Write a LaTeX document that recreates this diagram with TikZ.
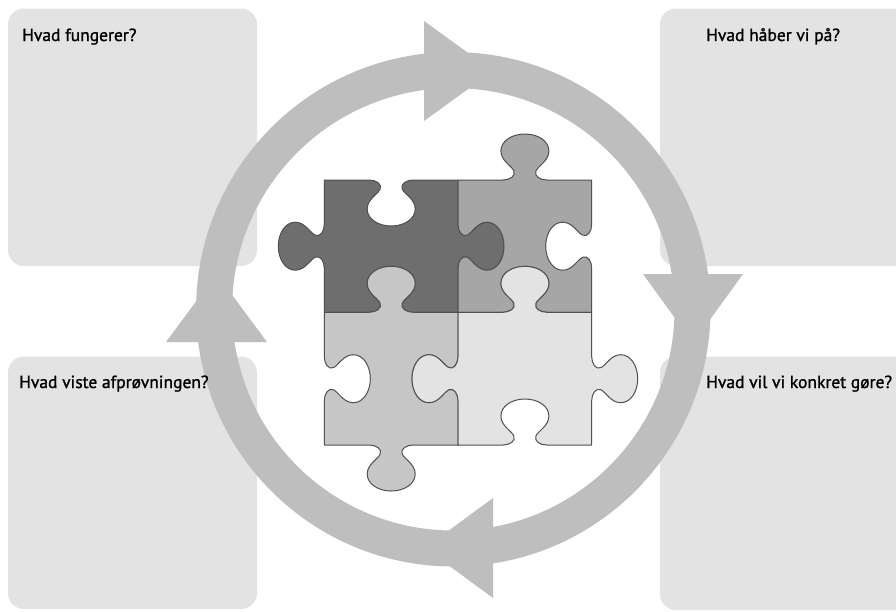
\documentclass[tikz,border=0pt]{standalone}
\usepackage{fontspec}
\setmainfont{PT Sans}
\newfontfamily\qfont[FakeBold=1.2]{PT Sans}
\definecolor{ringgray}{RGB}{190,190,190}
\definecolor{boxgray}{RGB}{227,227,227}
\definecolor{pdark}{RGB}{110,110,110}
\definecolor{pmid}{RGB}{166,166,166}
\definecolor{plight}{RGB}{198,198,198}
\definecolor{ppale}{RGB}{227,227,227}
\definecolor{pline}{RGB}{80,80,80}
% knob along an edge: #1,#2 edge midpoint; #3,#4 along-direction; #5,#6 bump direction
\newcommand\kn[6]{%
-- ({#1-22*(#3)},{#2-22*(#4)})
.. controls ({#1-15*(#3)},{#2-15*(#4)}) and ({#1-9*(#3)+4*(#5)},{#2-9*(#4)+4*(#6)})
.. ({#1-11*(#3)+9*(#5)},{#2-11*(#4)+9*(#6)})
.. controls ({#1-13*(#3)+14*(#5)},{#2-13*(#4)+14*(#6)}) and ({#1-24*(#3)+19*(#5)},{#2-24*(#4)+19*(#6)})
.. ({#1-24*(#3)+29*(#5)},{#2-24*(#4)+29*(#6)})
.. controls ({#1-24*(#3)+39*(#5)},{#2-24*(#4)+39*(#6)}) and ({#1-13*(#3)+46*(#5)},{#2-13*(#4)+46*(#6)})
.. ({#1+46*(#5)},{#2+46*(#6)})
.. controls ({#1+13*(#3)+46*(#5)},{#2+13*(#4)+46*(#6)}) and ({#1+24*(#3)+39*(#5)},{#2+24*(#4)+39*(#6)})
.. ({#1+24*(#3)+29*(#5)},{#2+24*(#4)+29*(#6)})
.. controls ({#1+24*(#3)+19*(#5)},{#2+24*(#4)+19*(#6)}) and ({#1+13*(#3)+14*(#5)},{#2+13*(#4)+14*(#6)})
.. ({#1+11*(#3)+9*(#5)},{#2+11*(#4)+9*(#6)})
.. controls ({#1+9*(#3)+4*(#5)},{#2+9*(#4)+4*(#6)}) and ({#1+15*(#3)},{#2+15*(#4)})
.. ({#1+22*(#3)},{#2+22*(#4)})
}
\begin{document}
\begin{tikzpicture}[x=1pt,y=-1pt,
  qbox/.style={fill=boxgray, rounded corners=16pt},
  qtext/.style={anchor=base west, inner sep=0pt, font=\qfont\fontsize{17.5}{20}\selectfont, text=black},
  piece/.style={draw=pline, line width=1pt, line join=round},
  arrowhd/.style={fill=ringgray}]
\useasboundingbox (0,0) rectangle (896,611);
\fill[white] (0,0) rectangle (896,611);
% boxes
\path[qbox] (8,8.5) rectangle (257,266);
\path[qbox] (8,356.5) rectangle (257,609);
\path[qbox] (660,8.5) rectangle (912,266);
\path[qbox] (660,356.5) rectangle (912,610);
% ring and arrowheads
\draw[ringgray, line width=36pt] (453.3,309.3) circle[radius=239.2pt];
\path[arrowhd] (424,21) -- (493,71) -- (424,121) -- cycle;
\path[arrowhd] (643,274) -- (743,274) -- (693,343) -- cycle;
\path[arrowhd] (493,498) -- (493,598) -- (425,548) -- cycle;
\path[arrowhd] (166,342) -- (267,342) -- (216.5,274) -- cycle;
% puzzle pieces
\draw[piece, fill=pdark] (324.3,180) \kn{391.2}{180}{1}{0}{0}{1} -- (458,180) \kn{458}{246.2}{0}{1}{1}{0} -- (458,312.3) \kn{391.2}{312.3}{-1}{0}{0}{-1} -- (324.3,312.3) \kn{324.3}{246.2}{0}{-1}{-1}{0} -- cycle;
\draw[piece, fill=pmid] (458,180) \kn{524.9}{180}{1}{0}{0}{-1} -- (591.7,180) \kn{591.7}{246.2}{0}{1}{-1}{0} -- (591.7,312.3) \kn{524.9}{312.3}{-1}{0}{0}{-1} -- (458,312.3) \kn{458}{246.2}{0}{-1}{1}{0} -- cycle;
\draw[piece, fill=plight] (324.3,312.3) \kn{391.2}{312.3}{1}{0}{0}{-1} -- (458,312.3) \kn{458}{378.7}{0}{1}{-1}{0} -- (458,445) \kn{391.2}{445}{-1}{0}{0}{1} -- (324.3,445) \kn{324.3}{378.7}{0}{-1}{1}{0} -- cycle;
\draw[piece, fill=ppale] (458,312.3) \kn{524.9}{312.3}{1}{0}{0}{-1} -- (591.7,312.3) \kn{591.7}{378.7}{0}{1}{1}{0} -- (591.7,445) \kn{524.9}{445}{-1}{0}{0}{-1} -- (458,445) \kn{458}{378.7}{0}{-1}{-1}{0} -- cycle;
% texts
\node[qtext] (t1) at (22,41) {Hvad fungerer?};
\node[qtext] (t2) at (706,41) {Hvad håber vi på?};
\node[qtext] (t3) at (19,388) {Hvad viste afprøvningen?};
\node[qtext] (t4) at (706,388) {Hvad vil vi konkret gøre?};
\end{tikzpicture}
\end{document}
